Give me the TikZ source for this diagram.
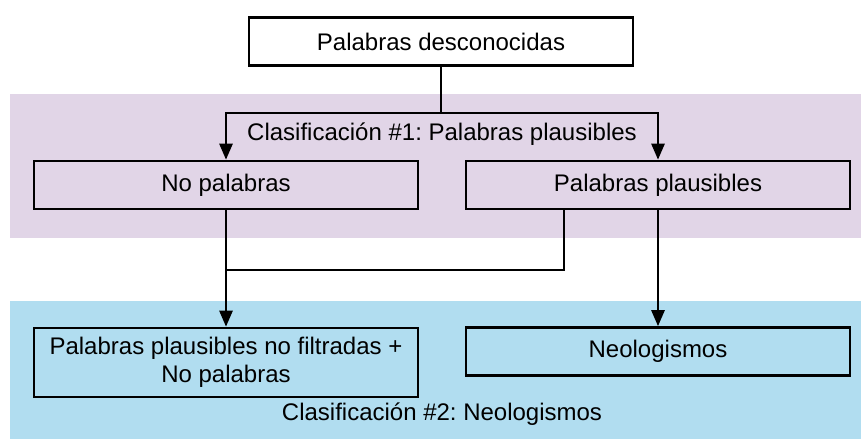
\documentclass[tikz,border=0pt]{standalone}
\usepackage{fontspec}
\setmainfont{Liberation Sans}
\usetikzlibrary{arrows.meta}
\definecolor{bandpurple}{HTML}{E1D5E7}
\definecolor{bandblue}{HTML}{B1DDF0}
\frenchspacing
\begin{document}
\begin{tikzpicture}[x=1pt,y=-1pt,
  box/.style={draw=black,line width=2.6pt,minimum height=48pt,minimum width=384pt,inner sep=0pt,align=center,font=\fontsize{24}{28}\selectfont},
  lbl/.style={font=\fontsize{24}{28}\selectfont,inner sep=0pt},
  conn/.style={line width=2.6pt},
  arr/.style={conn,-{Triangle[length=16pt,width=13pt]}}]
\useasboundingbox (0,0) rectangle (861,439);
\fill[bandpurple] (10,94) rectangle (861,238);
\fill[bandblue] (10,301) rectangle (861,439);
\node[box] (top) at (441,41.5) {Palabras desconocidas};
\node[box] (nop) at (226,185) {No palabras};
\node[box] (pp) at (658,185) {Palabras plausibles};
\node[box,minimum height=69pt] (ppnf) at (226,362.5) {Palabras plausibles no filtradas +\\No palabras};
\node[box] (neo) at (658,351.5) {Neologismos};
\node[lbl] (c1) at (442,134) {Clasificación \#1: Palabras plausibles};
\node[lbl] (c2) at (442,414) {Clasificación \#2: Neologismos};
\coordinate (j1) at (441,113);
\coordinate (j2) at (226,270);
\coordinate (pps) at (564,209);
\draw[conn] (top.south) -- (j1);
\draw[arr] (j1) -| (nop.north);
\draw[arr] (j1) -| (pp.north);
\draw[arr] (nop.south) -- (ppnf.north);
\draw[conn] (pps) |- (j2);
\draw[arr] (pp.south) -- (neo.north);
\end{tikzpicture}
\end{document}
